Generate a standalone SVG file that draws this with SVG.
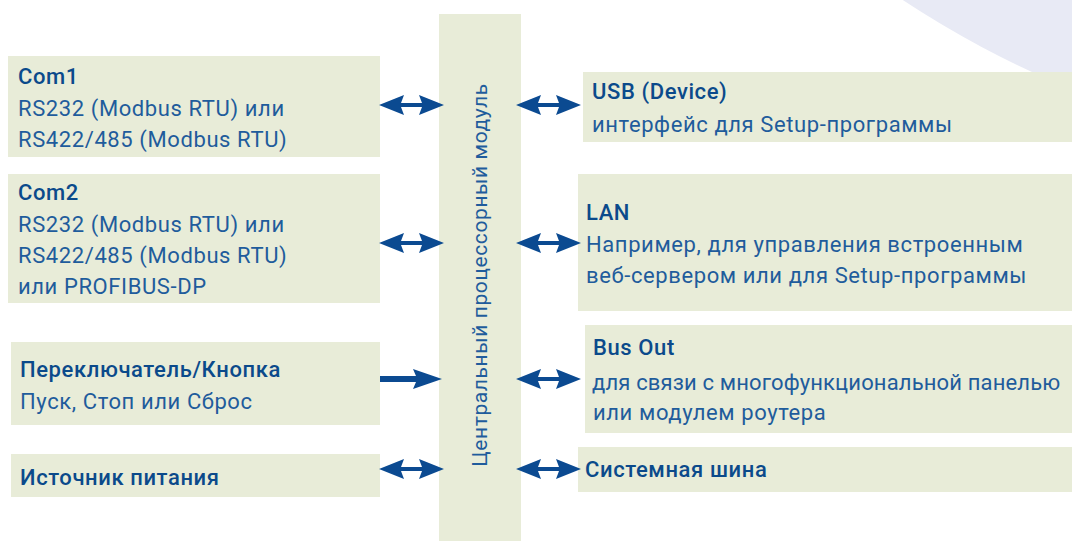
<svg xmlns="http://www.w3.org/2000/svg" width="1072" height="541" viewBox="0 0 1072 541">
  <style>
    .box { fill: #e8ecd8; }
    .arr { fill: #0b4a91; }
    text { font-family: Roboto, "Liberation Sans", sans-serif; font-size: 22px; letter-spacing: 0.6px; }
    .h { fill: #0b4a8b; font-weight: 500; }
    .b { fill: #1f5c9c; }
    .v { font-size: 21px; }
    .tight { letter-spacing: 0.15px; }
  </style>
  <defs>
    <!-- double-headed connector, 65 px long, centred on y=0 -->
    <path id="dbl" class="arr" d="M0,0 L25,-10 L22,-2 L43,-2 L40,-10 L65,0 L40,10 L43,2 L22,2 L25,10 Z"/>
    <!-- single-headed connector pointing right -->
    <path id="one" class="arr" d="M0,-3 L36,-3 L33,-10 L62,0 L33,10 L36,3 L0,3 Z"/>
  </defs>

  <!-- backdrop arc, top right -->
  <circle cx="1453" cy="-835" r="1000" fill="#e8eaf5"/>

  <g id="cpu">
    <rect class="box" x="439" y="14" width="82" height="527"/>
    <text class="b v" x="0" y="0" text-anchor="middle" transform="translate(487,275) rotate(-90)">Центральный процессорный модуль</text>
  </g>

  <g id="com1">
    <rect class="box" x="8" y="56" width="372" height="101"/>
    <text class="h" x="18" y="84">Com1</text>
    <text class="b" x="18" y="116">RS232 (Modbus RTU) или</text>
    <text class="b" x="18" y="147">RS422/485 (Modbus RTU)</text>
  </g>

  <g id="com2">
    <rect class="box" x="8" y="174" width="372" height="129"/>
    <text class="h" x="18" y="200">Com2</text>
    <text class="b" x="18" y="232">RS232 (Modbus RTU) или</text>
    <text class="b" x="18" y="263">RS422/485 (Modbus RTU)</text>
    <text class="b" x="18" y="294">или PROFIBUS-DP</text>
  </g>

  <g id="switch">
    <rect class="box" x="11" y="342" width="369" height="83"/>
    <text class="h" x="20" y="377">Переключатель/Кнопка</text>
    <text class="b" x="20" y="409">Пуск, Стоп или Сброс</text>
  </g>

  <g id="power">
    <rect class="box" x="11" y="454" width="369" height="43"/>
    <text class="h" x="20" y="485">Источник питания</text>
  </g>

  <g id="usb">
    <rect class="box" x="583" y="72" width="489" height="70"/>
    <text class="h" x="592" y="99">USB (Device)</text>
    <text class="b" x="592" y="132">интерфейс для Setup-программы</text>
  </g>

  <g id="lan">
    <rect class="box" x="578" y="174" width="494" height="137"/>
    <text class="h" x="586" y="220">LAN</text>
    <text class="b" x="586" y="252">Например, для управления встроенным</text>
    <text class="b" x="586" y="283">веб-сервером или для Setup-программы</text>
  </g>

  <g id="busout">
    <rect class="box" x="585" y="325" width="487" height="108"/>
    <text class="h" x="593" y="355">Bus Out</text>
    <text class="b tight" x="592" y="390">для связи с многофункциональной панелью</text>
    <text class="b" x="593" y="420">или модулем роутера</text>
  </g>

  <g id="sysbus">
    <rect class="box" x="578" y="447" width="494" height="45"/>
    <text class="h" x="585" y="477">Системная шина</text>
  </g>

  <g id="connectors">
    <use href="#dbl" x="379" y="105"/>
    <use href="#dbl" x="379" y="243"/>
    <use href="#one" x="380" y="379"/>
    <use href="#dbl" x="379" y="469"/>
    <use href="#dbl" x="516" y="105"/>
    <use href="#dbl" x="516" y="243"/>
    <use href="#dbl" x="516" y="379"/>
    <use href="#dbl" x="516" y="469"/>
  </g>
</svg>
